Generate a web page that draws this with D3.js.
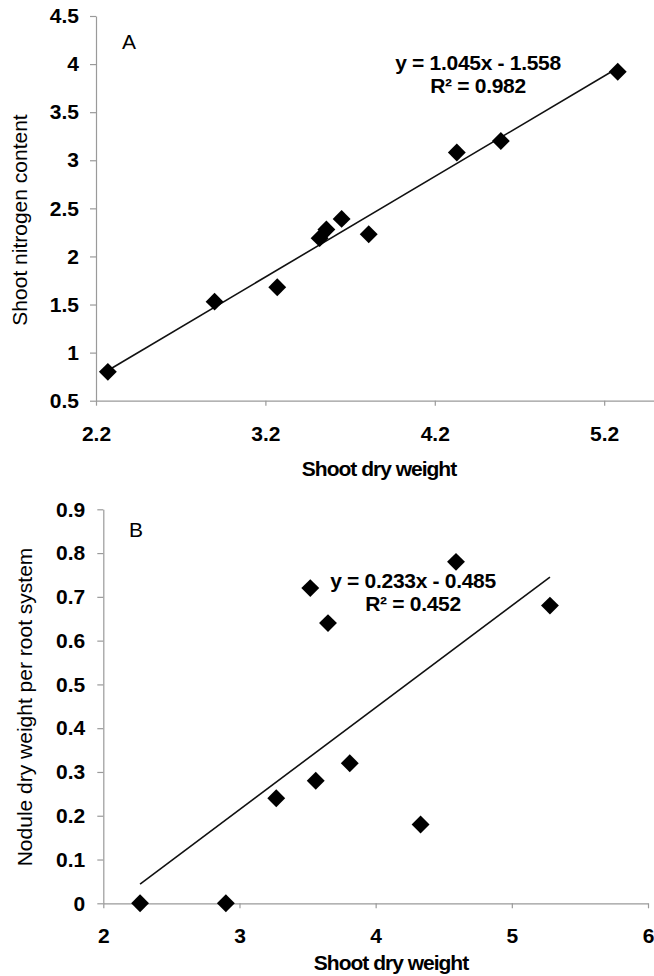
<!DOCTYPE html>
<html>
<head>
<meta charset="utf-8">
<script src="https://cdn.jsdelivr.net/npm/d3@7"></script>
<style>
  html, body { margin: 0; padding: 0; background: #fff; }
  svg { display: block; }
  text { font-family: "Liberation Sans", Arial, sans-serif; fill: #000; }
</style>
</head>
<body>
<svg id="chart" width="654" height="976"></svg>
<script>
// ---- Data ----
const shootDryWeight = [2.27, 2.90, 3.27, 3.52, 3.56, 3.65, 3.81, 4.33, 4.59, 5.28];
const shootNitrogen  = [0.80, 1.53, 1.68, 2.19, 2.28, 2.39, 2.23, 3.08, 3.20, 3.92];
const noduleWeight   = [0.00, 0.00, 0.24, 0.72, 0.28, 0.64, 0.32, 0.18, 0.78, 0.68];

const trendA = [1.045, -1.558];   // slope, intercept
const trendB = [0.233, -0.485];
const equationA = ["y = 1.045x - 1.558", "R\u00b2 = 0.982"];
const equationB = ["y = 0.233x - 0.485", "R\u00b2 = 0.452"];

const xTicksA = [2.2, 3.2, 4.2, 5.2];
const yTicksA = [0.5, 1, 1.5, 2, 2.5, 3, 3.5, 4, 4.5];
const xTicksB = [2, 3, 4, 5, 6];
const yTicksB = [0, 0.1, 0.2, 0.3, 0.4, 0.5, 0.6, 0.7, 0.8, 0.9];

const xTitle = "Shoot dry weight";
const yTitleA = "Shoot nitrogen content";
const yTitleB = "Nodule dry weight per root system";

// ---- Drawing ----
const svg = d3.select("#chart");
const FONT = 21;
const AXIS_COLOR = "#9a9a9a";

function panel(cfg) {
  const x = d3.scaleLinear().domain(cfg.xDomain).range([cfg.left, cfg.right]);
  const y = d3.scaleLinear().domain(cfg.yDomain).range([cfg.bottom, cfg.top]);
  const g = svg.append("g");

  // y axis
  const ya = g.append("g").attr("transform", `translate(${cfg.left},0)`)
    .call(d3.axisLeft(y).tickValues(cfg.yTicks).tickFormat(d => String(d))
      .tickSize(6).tickSizeOuter(0).tickPadding(cfg.yPad));
  // x axis
  const xa = g.append("g").attr("transform", `translate(0,${cfg.bottom})`)
    .call(d3.axisBottom(x).tickValues(cfg.xTicks).tickFormat(cfg.xFmt)
      .tickSize(5).tickSizeOuter(0));
  [ya, xa].forEach(a => {
    a.select(".domain").attr("stroke", AXIS_COLOR).attr("stroke-width", 1.2);
    a.selectAll(".tick line").attr("stroke", AXIS_COLOR).attr("stroke-width", 1.2);
    a.selectAll("text").attr("font-size", FONT).attr("fill", "#000")
      .attr("font-weight", "bold")
      .style("font-family", '"Liberation Sans", Arial, sans-serif');
  });
  xa.selectAll(".tick text").attr("y", cfg.xLabelBase).attr("dy", 0);

  // trend line across data range
  const xs = d3.extent(cfg.xs);
  const line = d3.line().x(d => x(d)).y(d => y(cfg.trend[0] * d + cfg.trend[1]));
  g.append("path").datum(xs).attr("d", line)
    .attr("fill", "none").attr("stroke", "#111").attr("stroke-width", 1.6);

  // markers (diamonds)
  const sym = d3.symbol().type(d3.symbolSquare).size(160);
  g.selectAll("path.pt").data(cfg.xs.map((v, i) => [v, cfg.ys[i]])).join("path")
    .attr("class", "pt")
    .attr("d", sym)
    .attr("transform", d => `translate(${x(d[0])},${y(d[1])}) rotate(45)`)
    .attr("fill", "#000");

  // panel letter
  g.append("text").attr("x", cfg.letterX).attr("y", cfg.letterY)
    .attr("text-anchor", "middle").attr("font-size", FONT).text(cfg.letter);

  // equation
  g.append("text").attr("x", cfg.eqX).attr("y", cfg.eqY)
    .attr("text-anchor", "middle").attr("font-size", FONT)
    .attr("font-weight", "bold").attr("letter-spacing", -0.3).text(cfg.eq[0]);
  g.append("text").attr("x", cfg.eqX).attr("y", cfg.eqY + 23)
    .attr("text-anchor", "middle").attr("font-size", FONT)
    .attr("font-weight", "bold").attr("letter-spacing", -0.3).text(cfg.eq[1]);

  // x title
  g.append("text").attr("x", cfg.xTitleX).attr("y", cfg.xTitleY)
    .attr("text-anchor", "middle").attr("font-size", FONT)
    .attr("font-weight", "bold").attr("letter-spacing", -1).text(xTitle);

  // y title
  g.append("text")
    .attr("transform", `translate(${cfg.yTitleX},${cfg.yTitleY}) rotate(-90)`)
    .attr("text-anchor", "middle").attr("font-size", FONT).text(cfg.yTitle);
}

panel({
  xDomain: [2.2, 5.5], yDomain: [0.5, 4.5],
  left: 96, right: 655, top: 16, bottom: 400.7,
  xTicks: xTicksA, yTicks: yTicksA, xFmt: d3.format(".1f"), yPad: 11,
  xLabelBase: 40,
  xs: shootDryWeight, ys: shootNitrogen, trend: trendA,
  letter: "A", letterX: 129, letterY: 49,
  eq: equationA, eqX: 478, eqY: 70,
  xTitleX: 379, xTitleY: 476,
  yTitle: yTitleA, yTitleX: 27, yTitleY: 220
});

panel({
  xDomain: [2, 6], yDomain: [0, 0.9],
  left: 103.3, right: 648, top: 509.3, bottom: 903.3,
  xTicks: xTicksB, yTicks: yTicksB, xFmt: d3.format("d"), yPad: 12,
  xLabelBase: 40,
  xs: shootDryWeight, ys: noduleWeight, trend: trendB,
  letter: "B", letterX: 136, letterY: 537,
  eq: equationB, eqX: 413, eqY: 588,
  xTitleX: 391, xTitleY: 970,
  yTitle: yTitleB, yTitleX: 32, yTitleY: 707
});
</script>
</body>
</html>
